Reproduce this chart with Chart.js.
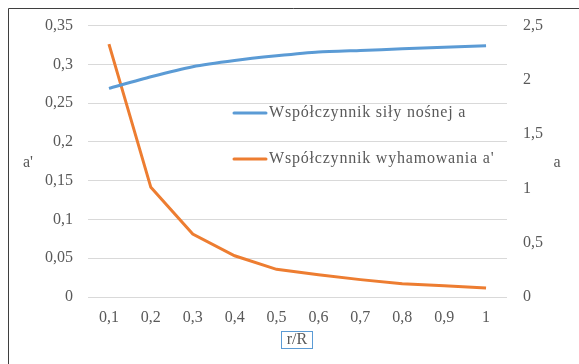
<!DOCTYPE html>
<html>
<head>
<meta charset="utf-8">
<script src="https://cdn.jsdelivr.net/npm/chart.js@4.4.1/dist/chart.umd.min.js"></script>
<style>
  html, body { margin: 0; padding: 0; background: #fff; }
  canvas { display: block; }
</style>
</head>
<body>
<canvas id="chart" width="579" height="364"></canvas>
<script>
// r/R
const categories = ['0,1', '0,2', '0,3', '0,4', '0,5', '0,6', '0,7', '0,8', '0,9', '1'];
// Współczynnik siły nośnej a (lewa oś)
const liftValues = [0.269, 0.284, 0.297, 0.305, 0.311, 0.316, 0.318, 0.320, 0.322, 0.324];
// Współczynnik wyhamowania a' (prawa oś)
const brakeValues = [2.33, 1.01, 0.58, 0.38, 0.255, 0.205, 0.16, 0.122, 0.104, 0.083];

const FONT = 'Liberation Serif, Times New Roman, serif';
const TEXT = '#595959';

const fmt = v => parseFloat(Number(v).toFixed(2)).toString().replace('.', ',');

// ramka, tytuły osi, legenda w polu wykresu
const decorPlugin = {
    id: 'decor',
    afterDraw: (chart) => {
        const ctx = chart.ctx;
        ctx.save();
        ctx.strokeStyle = '#3f3f3f';
        ctx.lineWidth = 1;
        ctx.beginPath();
        ctx.moveTo(8.5, 364);
        ctx.lineTo(8.5, 8.5);
        ctx.lineTo(579, 8.5);
        ctx.stroke();

        ctx.fillStyle = TEXT;
        ctx.font = `16px ${FONT}`;
        ctx.textAlign = 'center';
        ctx.textBaseline = 'middle';
        ctx.fillText("a'", 28, 163);
        ctx.fillText('a', 557, 163);

        // tytuł osi X w ramce
        ctx.strokeStyle = '#5b9bd5';
        ctx.strokeRect(281.5, 331.5, 31, 17);
        ctx.fillText('r/R', 297, 340);

        // legenda
        const legendY = [113, 159];
        ctx.textAlign = 'left';
        ctx.letterSpacing = '0.8px';
        chart.data.datasets.forEach((ds, i) => {
            ctx.strokeStyle = ds.borderColor;
            ctx.lineWidth = 3;
            ctx.lineCap = 'round';
            ctx.beginPath();
            ctx.moveTo(234, legendY[i]);
            ctx.lineTo(266, legendY[i]);
            ctx.stroke();
            ctx.fillText(ds.label, 269, legendY[i]);
        });
        ctx.restore();
    }
};

new Chart(document.getElementById('chart').getContext('2d'), {
    type: 'line',
    data: {
        labels: categories,
        datasets: [{
            label: 'Współczynnik siły nośnej a',
            data: liftValues,
            borderColor: '#5b9bd5',
            backgroundColor: '#5b9bd5',
            borderWidth: 3,
            pointRadius: 0,
            tension: 0.2,
            yAxisID: 'y'
        }, {
            label: "Współczynnik wyhamowania a'",
            data: brakeValues,
            borderColor: '#ed7d31',
            backgroundColor: '#ed7d31',
            borderWidth: 3,
            pointRadius: 0,
            tension: 0,
            yAxisID: 'y1'
        }]
    },
    options: {
        responsive: false,
        animation: false,
        devicePixelRatio: 1,
        layout: { padding: { top: 25, left: 0, right: 0, bottom: 0 } },
        plugins: { legend: { display: false }, tooltip: { enabled: false } },
        scales: {
            x: {
                offset: true,
                grid: { display: false, drawTicks: false },
                border: { display: false },
                ticks: { color: TEXT, font: { family: FONT, size: 16 }, padding: 11, maxRotation: 0 },
                afterFit: (scale) => { scale.height = 67; }
            },
            y: {
                position: 'left',
                min: 0,
                max: 0.35,
                grid: { color: '#d9d9d9', drawTicks: false },
                border: { display: false },
                ticks: { stepSize: 0.05, color: TEXT, font: { family: FONT, size: 16 }, padding: 15, callback: fmt },
                afterFit: (scale) => { scale.width = 88; }
            },
            y1: {
                position: 'right',
                min: 0,
                max: 2.5,
                grid: { display: false, drawTicks: false },
                border: { display: false },
                ticks: { stepSize: 0.5, color: TEXT, font: { family: FONT, size: 16 }, padding: 16, callback: fmt },
                afterFit: (scale) => { scale.width = 72; }
            }
        }
    },
    plugins: [decorPlugin]
});
</script>
</body>
</html>
